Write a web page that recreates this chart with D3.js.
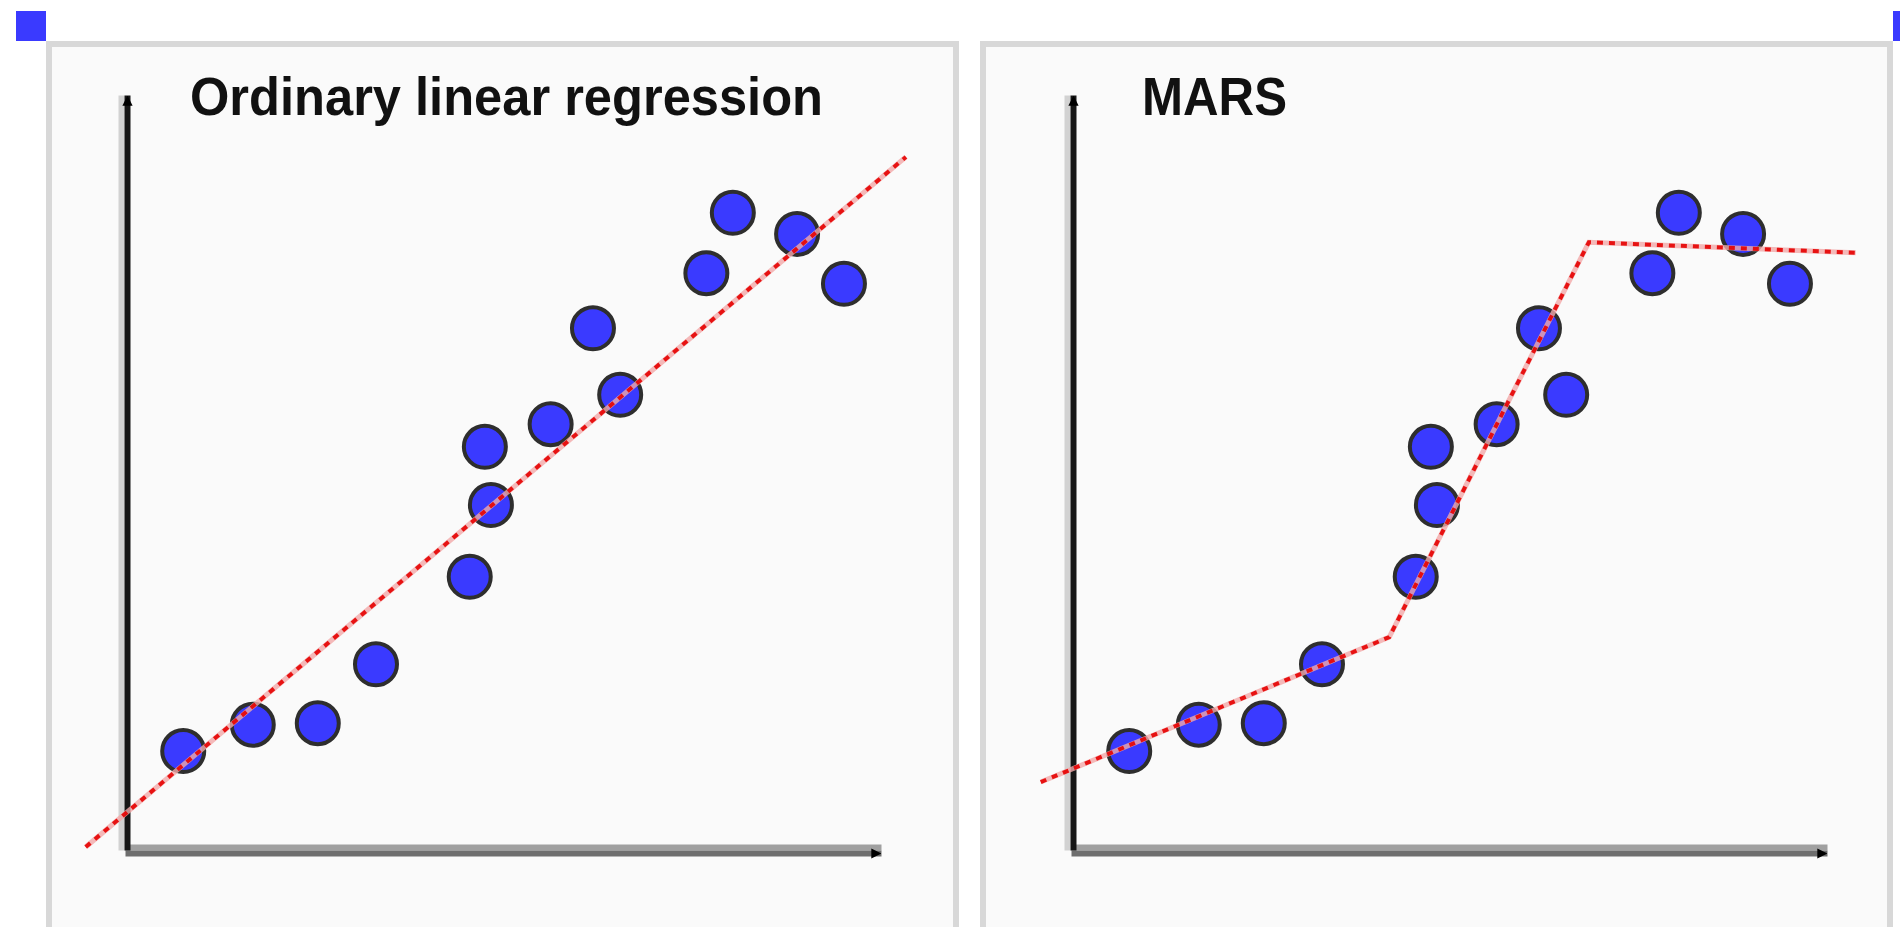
<!DOCTYPE html>
<html lang="en">
<head>
    <meta charset="UTF-8">
    <title>Linear regression vs MARS</title>
    <script src="https://d3js.org/d3.v7.min.js"></script>
    <style>
        body { margin: 0; background: #fff; }
        .panel { fill: #fafafa; stroke: #d8d8d8; stroke-width: 6; }
        .title { font-family: "Liberation Sans", Arial, sans-serif; font-weight: bold; font-size: 53px; fill: #111; }
        .dot { fill: #3a3aff; stroke: #2e2e2e; stroke-width: 4; }
        .fit-halo { fill: none; stroke: #f2a9a9; stroke-width: 5; opacity: 0.8; }
        .fit { fill: none; stroke: #e60000; stroke-width: 4; stroke-dasharray: 6,6; opacity: 0.9; }
    </style>
</head>
<body>
<div id="chart"></div>
<script>
    // the same 14 points are shown in both panels
    const xVals = [7.7, 16.9, 25.5, 33.2, 45.6, 48.4, 47.6, 56.3, 65.5, 61.9, 76.9, 80.4, 88.9, 95.1];
    const yVals = [13.1, 16.6, 16.8, 24.6, 36.2, 45.7, 53.4, 56.4, 60.3, 69.1, 76.4, 84.4, 81.6, 75.0];

    // fitted lines
    const olsX = [-5.2, 103.3];
    const olsY = [0.4, 91.8];
    const marsX = [-4.0, 42.1, 68.5, 103.8];
    const marsY = [9.0, 28.2, 80.5, 79.1];

    const titles = ["Ordinary linear regression", "MARS"];

    const width = 1900, height = 927;

    const svg = d3.select("#chart").append("svg")
        .attr("width", width)
        .attr("height", height);

    const defs = svg.append("defs");
    defs.append("marker")
        .attr("id", "arrow")
        .attr("viewBox", "0 0 10 10")
        .attr("refX", 10).attr("refY", 5)
        .attr("markerWidth", 1.7).attr("markerHeight", 1.7)
        .attr("orient", "auto")
        .append("path")
        .attr("d", "M0,0L10,5L0,10z")
        .attr("fill", "#000");

    // corner squares
    svg.append("rect").attr("x", 16).attr("y", 11).attr("width", 30).attr("height", 30).attr("fill", "#3a3aff");
    svg.append("rect").attr("x", 1893).attr("y", 11).attr("width", 10).attr("height", 30).attr("fill", "#3a3aff");

    const x = d3.scaleLinear().domain([0, 100]).range([125, 881]);
    const y = d3.scaleLinear().domain([0, 100]).range([850, 95]);

    const points = xVals.map((v, i) => ({x: v, y: yVals[i]}));
    const fits = [
        olsX.map((v, i) => [v, olsY[i]]),
        marsX.map((v, i) => [v, marsY[i]])
    ];

    const panels = [
        {box: 49, shift: 0, titleX: 190, titleW: 633},
        {box: 983, shift: 946, titleX: 1142, titleW: 145}
    ];

    const line = d3.line()
        .x(d => x(d[0]))
        .y(d => y(d[1]));

    panels.forEach((p, k) => {
        svg.append("rect")
            .attr("class", "panel")
            .attr("x", p.box).attr("y", 44)
            .attr("width", 907).attr("height", 920);

        const g = svg.append("g").attr("transform", "translate(" + p.shift + ",0)");

        // axes: two-tone lines like the original pixel art
        const xAxis = d3.axisBottom(x).tickValues([]).tickSizeOuter(0);
        const yAxis = d3.axisLeft(y).tickValues([]).tickSizeOuter(0);

        g.append("g").attr("transform", "translate(0," + (y(0) - 3) + ")").call(xAxis)
            .select(".domain").attr("stroke", "#a0a0a0").attr("stroke-width", 6);
        g.append("g").attr("transform", "translate(0," + (y(0) + 3) + ")").call(xAxis)
            .select(".domain").attr("stroke", "#6e6e6e").attr("stroke-width", 6)
            .attr("marker-end", "url(#arrow)");

        g.append("g").attr("transform", "translate(" + (x(0) - 4) + ",0)").call(yAxis)
            .select(".domain").attr("stroke", "#d2d2d2").attr("stroke-width", 6);
        g.append("g").attr("transform", "translate(" + (x(0) + 2) + ",0)").call(yAxis)
            .select(".domain").attr("stroke", "#161616").attr("stroke-width", 6)
            .attr("marker-end", "url(#arrow)");

        g.append("text")
            .attr("class", "title")
            .attr("x", p.titleX - p.shift)
            .attr("y", 115)
            .attr("textLength", p.titleW)
            .attr("lengthAdjust", "spacingAndGlyphs")
            .text(titles[k]);

        g.selectAll("circle")
            .data(points)
            .enter().append("circle")
            .attr("class", "dot")
            .attr("cx", d => x(d.x))
            .attr("cy", d => y(d.y))
            .attr("r", 21);

        g.append("path").datum(fits[k]).attr("class", "fit-halo").attr("d", line);
        g.append("path").datum(fits[k]).attr("class", "fit").attr("d", line);
    });
</script>
</body>
</html>
